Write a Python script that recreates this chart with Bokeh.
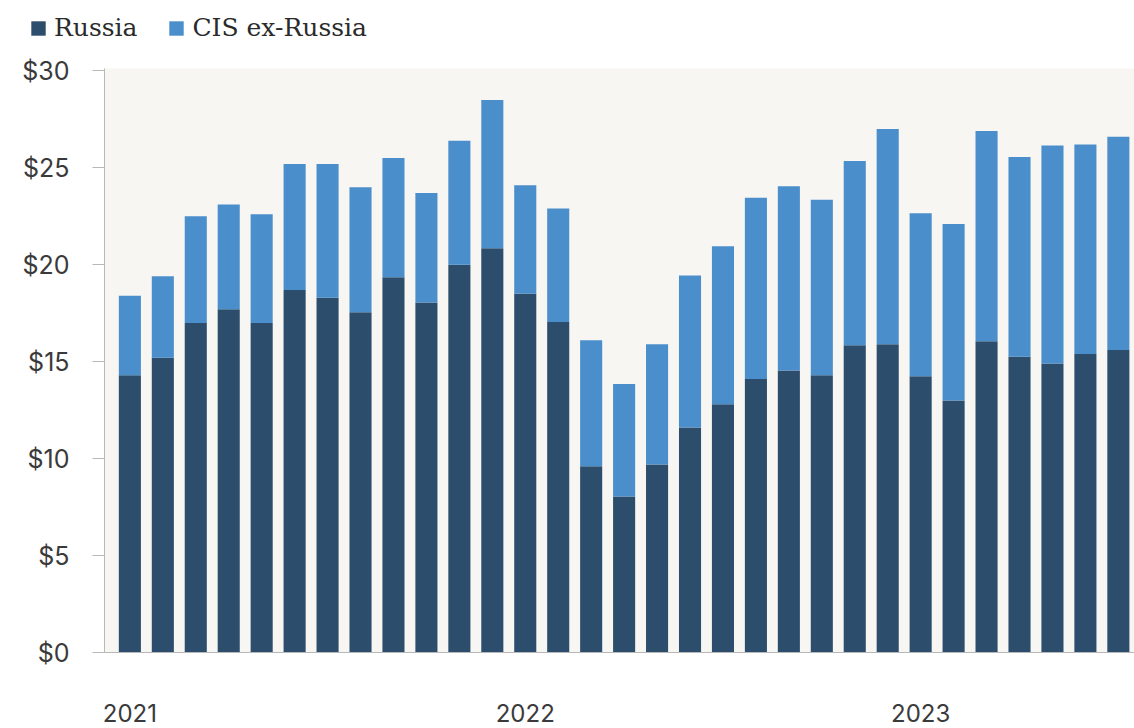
from bokeh.plotting import figure
from bokeh.layouts import column
from bokeh.models import ColumnDataSource, Range1d, FixedTicker, PrintfTickFormatter, Legend, LegendItem
from bokeh.embed import file_html
from bokeh.resources import INLINE

months = ["2021-01", "2021-02", "2021-03", "2021-04", "2021-05", "2021-06",
          "2021-07", "2021-08", "2021-09", "2021-10", "2021-11", "2021-12",
          "2022-01", "2022-02", "2022-03", "2022-04", "2022-05", "2022-06",
          "2022-07", "2022-08", "2022-09", "2022-10", "2022-11", "2022-12",
          "2023-01", "2023-02", "2023-03", "2023-04", "2023-05", "2023-06",
          "2023-07"]
russia = [14.3, 15.2, 17.0, 17.7, 17.0, 18.7, 18.3, 17.55, 19.35, 18.05, 20.0, 20.85,
          18.5, 17.05, 9.6, 8.05, 9.7, 11.6, 12.8, 14.1, 14.55, 14.3, 15.85, 15.9,
          14.25, 13.0, 16.05, 15.25, 14.9, 15.4, 15.6]
cis_ex_russia = [4.1, 4.2, 5.5, 5.4, 5.6, 6.5, 6.9, 6.45, 6.15, 5.65, 6.4, 7.65,
                 5.6, 5.85, 6.5, 5.8, 6.2, 7.85, 8.15, 9.35, 9.5, 9.05, 9.5, 11.1,
                 8.4, 9.1, 10.85, 10.3, 11.25, 10.8, 11.0]
series_names = ["Russia", "CIS ex-Russia"]
year_labels = ["2021", "2022", "2023"]
y_ticks = [0, 5, 10, 15, 20, 25, 30]

DARK = "#2c4d6b"
LIGHT = "#4a8ecb"
COLORS = [DARK, LIGHT]

idx = list(range(len(months)))
source = ColumnDataSource(dict(x=idx, month=months, russia=russia, cis=cis_ex_russia))

year_pos = [months.index(y + "-01") for y in year_labels]

# ---- legend strip (top) ----
LEG_H = 48
pl = figure(width=1134, height=LEG_H, output_backend="svg", toolbar_location=None,
            x_axis_location=None, y_axis_location=None,
            x_range=Range1d(-0.77, len(months) - 0.51), y_range=Range1d(0, 30.12),
            min_border=0, min_border_left=0, min_border_right=0, min_border_top=0, min_border_bottom=0)
pl.frame_align = False
pl.grid.visible = False
pl.outline_line_color = None
pl.background_fill_color = "white"
pl.border_fill_color = "white"
key_renderers = pl.vbar_stack(["russia", "cis"], x="x", width=0.67, color=COLORS,
                              source=source, line_color=None)
for r in key_renderers:
    r.visible = False
lg = Legend(items=[LegendItem(label=n, renderers=[r]) for n, r in zip(series_names, key_renderers)])
lg.orientation = "horizontal"
lg.location = (29, 6)
lg.border_line_color = None
lg.background_fill_alpha = 0
lg.inactive_fill_alpha = 0
lg.padding = 0
lg.margin = 0
lg.spacing = 30
lg.glyph_width = 18
lg.glyph_height = 18
lg.label_standoff = 7
lg.label_text_font = "DejaVu Serif"
lg.label_text_font_size = "25px"
lg.label_text_color = "#2a2a2a"
pl.add_layout(lg, "center")

# ---- main chart ----
p = figure(width=1134, height=728 - LEG_H, output_backend="svg", toolbar_location=None,
           x_range=Range1d(-0.77, len(months) - 0.51), y_range=Range1d(0, 30.12),
           min_border_left=104, min_border_right=0, min_border_top=20, min_border_bottom=76)
p.frame_align = False

p.vbar_stack(["russia", "cis"], x="x", width=0.67, color=COLORS, source=source,
             line_color=None)

p.background_fill_color = "#f7f6f2"
p.border_fill_color = "white"
p.outline_line_color = None
p.xgrid.grid_line_color = None
p.ygrid.grid_line_color = None

ya = p.yaxis[0]
ya.ticker = FixedTicker(ticks=y_ticks)
ya.formatter = PrintfTickFormatter(format="$%d")
ya.axis_line_color = "#b8b8b8"
ya.major_tick_line_color = "#b8b8b8"
ya.major_tick_out = 12
ya.major_tick_in = 0
ya.minor_tick_line_color = None
ya.major_label_standoff = 23
ya.major_label_text_font = "Inter"
ya.major_label_text_font_size = "25px"
ya.major_label_text_color = "#3a3a3a"

xa = p.xaxis[0]
xa.ticker = FixedTicker(ticks=year_pos)
xa.major_label_overrides = {pos: lab for pos, lab in zip(year_pos, year_labels)}
xa.axis_line_color = "#b8b8b8"
xa.major_tick_line_color = None
xa.major_tick_out = 0
xa.major_tick_in = 0
xa.minor_tick_line_color = None
xa.major_label_standoff = 51
xa.major_label_text_font = "Inter"
xa.major_label_text_font_size = "24px"
xa.major_label_text_color = "#3a3a3a"

layout = column(pl, p, spacing=0)
open("out.html", "w").write(file_html(layout, INLINE))
